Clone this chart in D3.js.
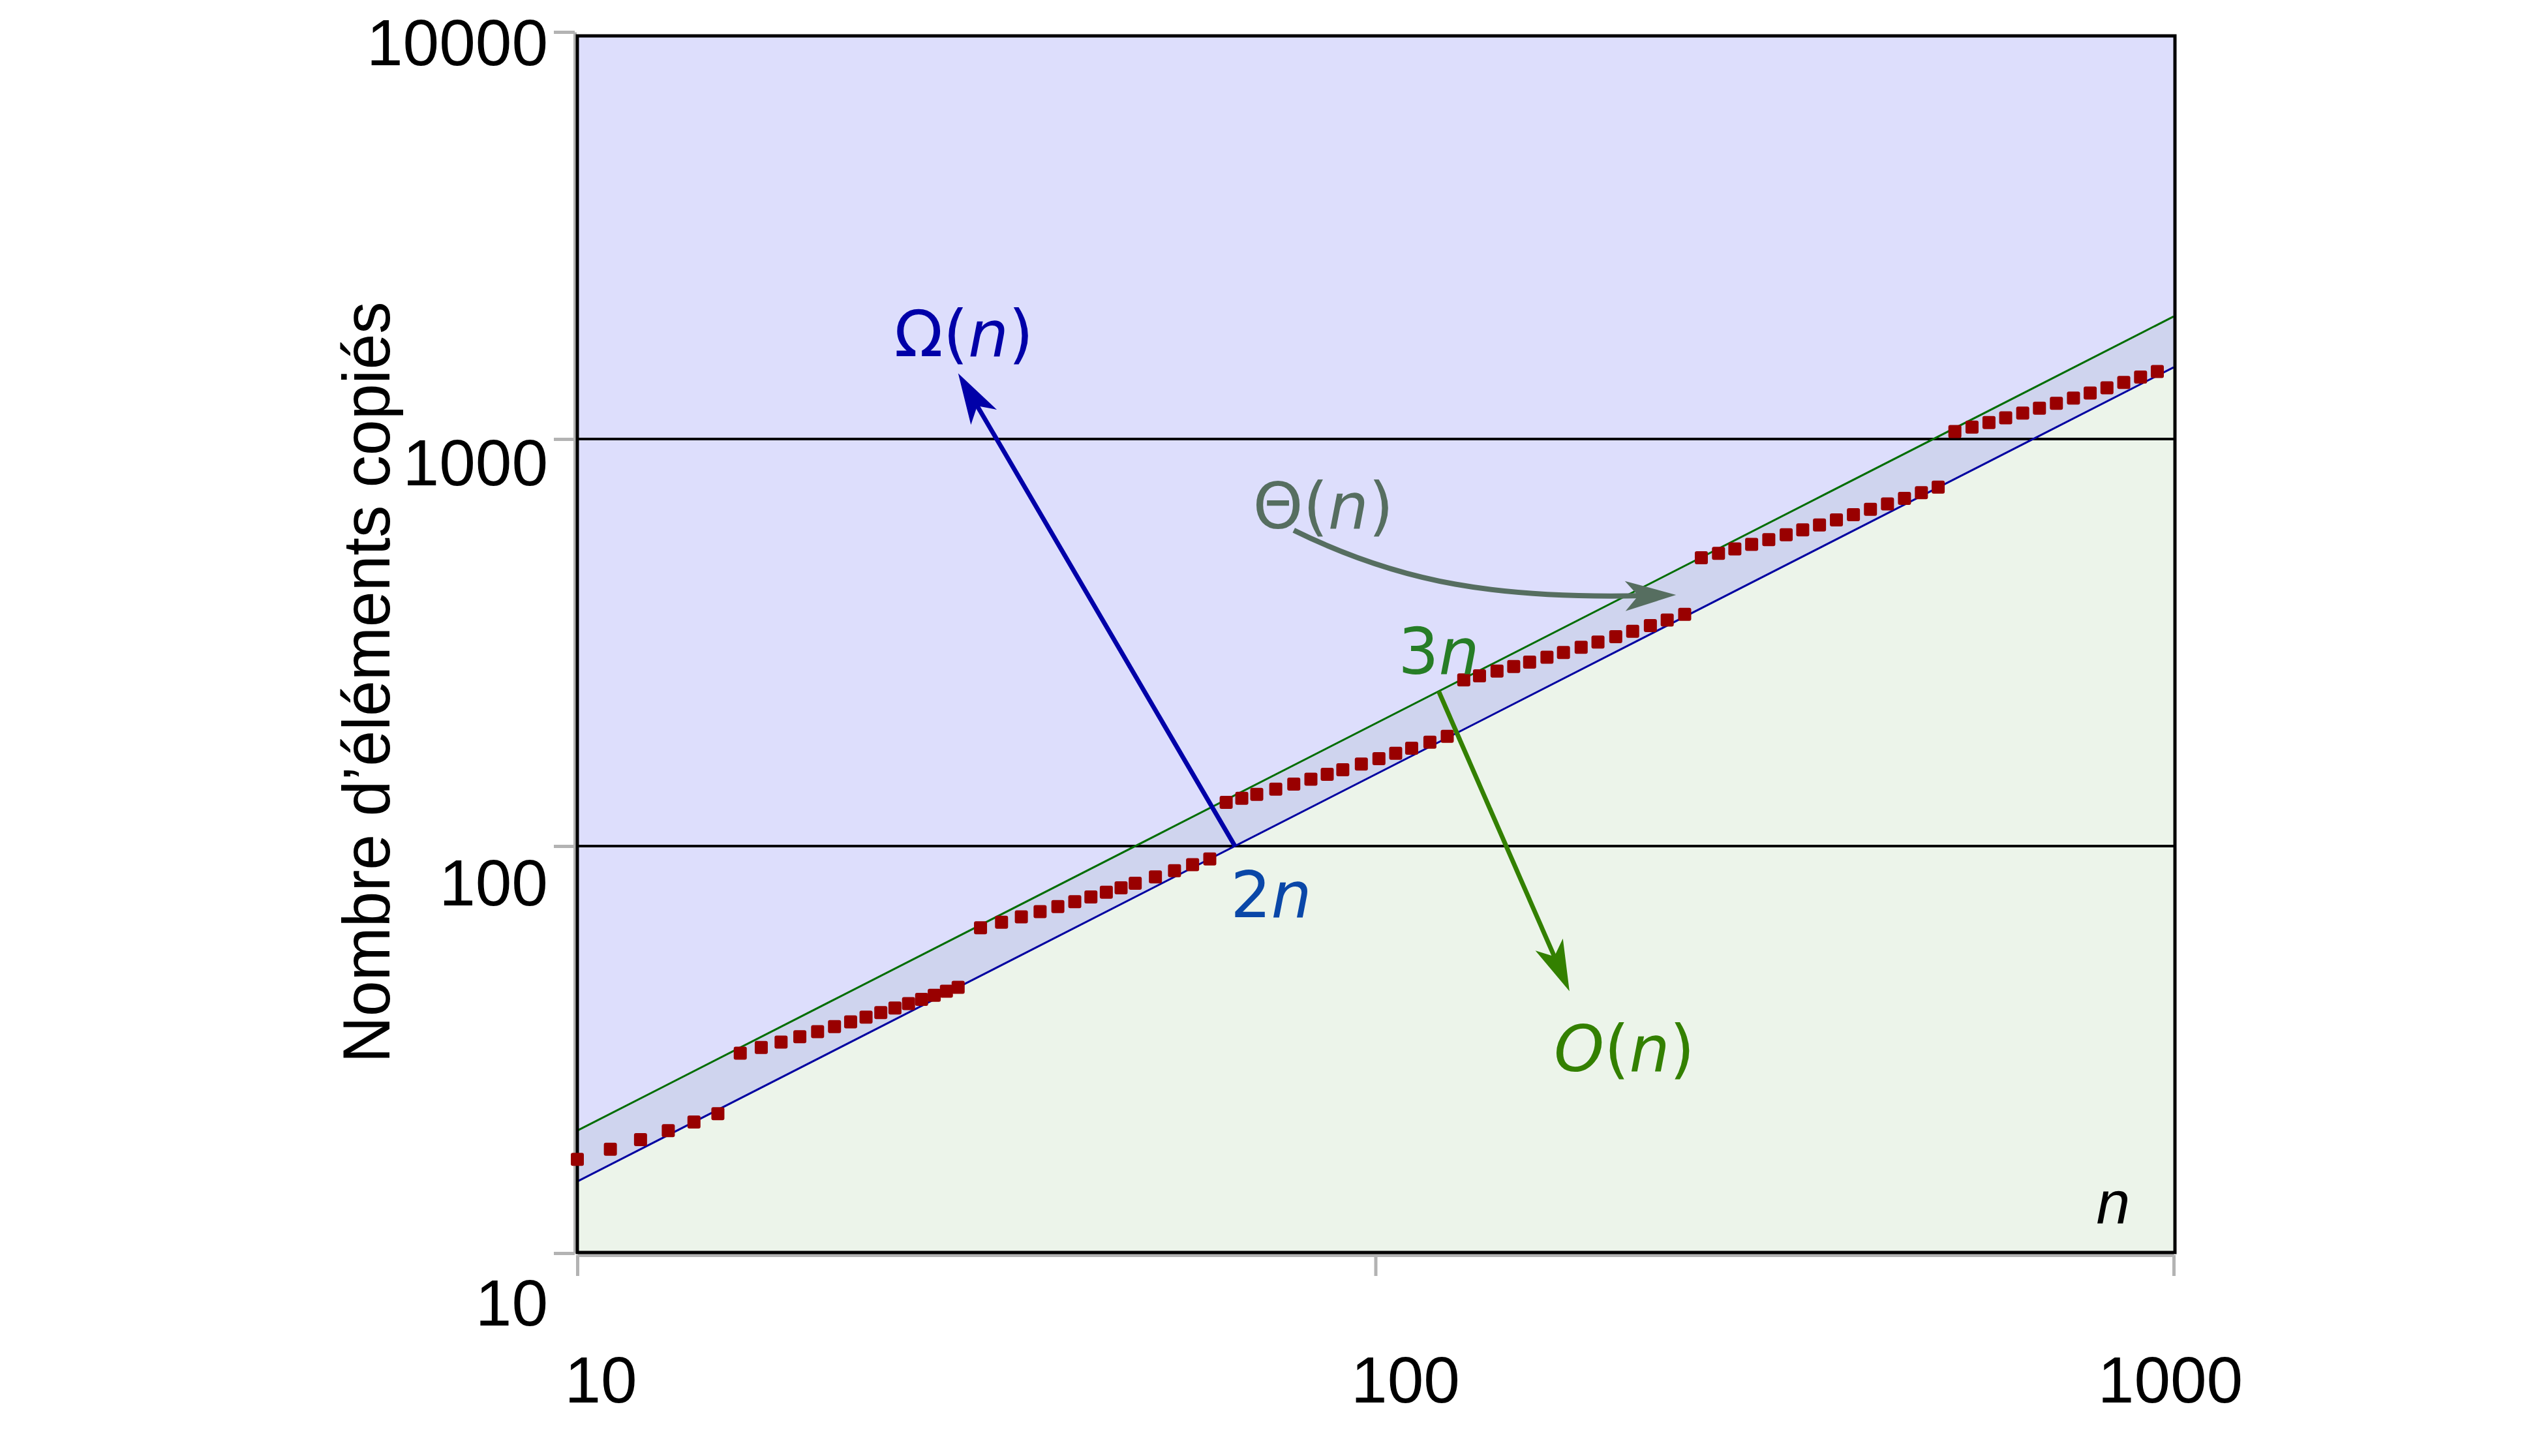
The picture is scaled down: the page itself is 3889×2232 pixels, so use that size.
<!DOCTYPE html>
<html>
<head>
<meta charset="utf-8">
<script src="https://cdn.jsdelivr.net/npm/d3@7"></script>
<style>
  html, body { margin: 0; padding: 0; background: #fff; }
  svg { display: block; }
</style>
</head>
<body>
<svg id="chart"></svg>
<script>
// sampled sizes n and number of copied elements, read off the marks
let sizes = [10, 11, 12, 13, 14, 15,
    16, 17, 18, 19, 20, 21, 22, 23, 24, 25, 26, 27, 28, 29, 30,
    32, 34, 36, 38, 40, 42, 44, 46, 48, 50, 53, 56, 59, 62,
    65, 68, 71, 75, 79, 83, 87, 91, 96, 101, 106, 111, 117, 123,
    129, 135, 142, 149, 156, 164, 172, 181, 190, 200, 210, 221, 232, 244,
    256, 269, 282, 296, 311, 327, 343, 360, 378, 397, 417, 438, 460, 483, 507,
    532, 559, 587, 616, 647, 679, 713, 749, 786, 825, 866, 909, 954];
let copies = [17, 18, 19, 20, 21, 22,
    31, 32, 33, 34, 35, 36, 37, 38, 39, 40, 41, 42, 43, 44, 45,
    63, 65, 67, 69, 71, 73, 75, 77, 79, 81, 84, 87, 90, 93,
    128, 131, 134, 138, 142, 146, 150, 154, 159, 164, 169, 174, 180, 186,
    256, 262, 269, 276, 283, 291, 299, 308, 317, 327, 337, 348, 359, 371,
    511, 524, 537, 551, 566, 582, 598, 615, 633, 652, 672, 693, 715, 738, 762,
    1043, 1070, 1098, 1127, 1158, 1190, 1224, 1260, 1297, 1336, 1377, 1420, 1465];

// bounding lines (end points)
let boundN = [10, 1000];
let lowerBound = [15, 1500];
let upperBound = [20, 2000];

let xTicks = [10, 100, 1000];
let yTicks = [10, 100, 1000, 10000];
let gridLevels = [100, 1000];

let yTitle = "Nombre d\u2019éléments copiés";

// annotation anchors, in data units
let omegaArrow = { from: [66.67, 100], to: [30, 1450] };
let bigOArrow = { from: [120, 240], to: [175, 44] };
let thetaArrow = { from: [79, 597], c1: [108, 441], c2: [143, 405], to: [238, 414] };

const W = 3889, H = 2232;
const mathFont = "'DejaVu Sans', sans-serif";
const textFont = "'Liberation Sans', Arial, Helvetica, sans-serif";

function drawChart() {
    let svg = d3.select('#chart')
        .attr('width', W)
        .attr('height', H);

    svg.append('rect').attr('width', W).attr('height', H).attr('fill', '#fff');

    let x = d3.scaleLog().domain([10, 1000]).range([885, 3332]);
    let y = d3.scaleLog().domain([10, 10000]).range([1921, 49]);

    let left = x(10), right = x(1000) + 2;
    let top = y(10000) + 6, bottom = y(10) - 1;

    // regions
    let lo = boundN.map((n, i) => [x(n), y(lowerBound[i])]);
    let up = boundN.map((n, i) => [x(n), y(upperBound[i])]);
    let poly = d3.line();

    svg.append('path')
        .attr('d', poly([[left, top], [right, top], [right, up[1][1]], up[1], up[0]]) + 'Z')
        .attr('fill', '#dddefc');
    svg.append('path')
        .attr('d', poly([up[0], up[1], [right, up[1][1]], [right, lo[1][1]], lo[1], lo[0]]) + 'Z')
        .attr('fill', '#cfd4ee');
    svg.append('path')
        .attr('d', poly([lo[0], lo[1], [right, lo[1][1]], [right, bottom], [left, bottom]]) + 'Z')
        .attr('fill', '#ecf4ea');

    // grid
    svg.selectAll('line.grid')
        .data(gridLevels)
        .enter()
        .append('line')
        .classed('grid', true)
        .attr('x1', left).attr('x2', right)
        .attr('y1', d => y(d)).attr('y2', d => y(d))
        .attr('stroke', '#000')
        .attr('stroke-width', 4);

    // bound lines
    svg.append('path')
        .attr('d', poly(up))
        .attr('stroke', '#006d00')
        .attr('stroke-width', 3)
        .attr('fill', 'none');
    svg.append('path')
        .attr('d', poly(lo))
        .attr('stroke', '#0000a0')
        .attr('stroke-width', 3)
        .attr('fill', 'none');

    // gray axes
    let gx = svg.append('g')
        .attr('transform', `translate(0,${bottom + 4})`)
        .call(d3.axisBottom(x).tickValues(xTicks).tickSize(32).tickSizeOuter(0).tickFormat(''));
    let gy = svg.append('g')
        .attr('transform', `translate(${left - 4},0)`)
        .call(d3.axisLeft(y).tickValues(yTicks).tickSize(32).tickSizeOuter(0).tickFormat(''));
    [gx, gy].forEach(g => {
        g.selectAll('path, line').attr('stroke', '#b3b3b3').attr('stroke-width', 5);
    });

    // frame
    svg.append('rect')
        .attr('x', left).attr('y', top)
        .attr('width', right - left).attr('height', bottom - top)
        .attr('fill', 'none')
        .attr('stroke', '#000')
        .attr('stroke-width', 5);

    // tick labels
    let xShift = [36, 46, -5];
    svg.selectAll('text.xtick')
        .data(xTicks)
        .enter()
        .append('text')
        .classed('xtick', true)
        .attr('x', (d, i) => x(d) + xShift[i])
        .attr('y', 2150)
        .attr('text-anchor', 'middle')
        .style('font-family', textFont)
        .style('font-size', '100px')
        .text(d => d);

    svg.selectAll('text.ytick')
        .data(yTicks)
        .enter()
        .append('text')
        .classed('ytick', true)
        .attr('x', 840)
        .attr('y', d => y(d) + 51 + (4 - Math.log10(d)) * 20)
        .attr('text-anchor', 'end')
        .style('font-family', textFont)
        .style('font-size', '100px')
        .text(d => d);

    svg.append('text')
        .attr('transform', 'translate(597,1046) rotate(-90)')
        .attr('text-anchor', 'middle')
        .attr('textLength', 1167)
        .attr('lengthAdjust', 'spacingAndGlyphs')
        .style('font-family', textFont)
        .style('font-size', '102px')
        .text(yTitle);

    svg.append('text')
        .attr('x', x(840)).attr('y', y(11.8))
        .attr('text-anchor', 'middle')
        .style('font-family', textFont)
        .style('font-style', 'italic')
        .style('font-size', '93px')
        .text('n');

    // points
    svg.selectAll('rect.pt')
        .data(sizes)
        .enter()
        .append('rect')
        .classed('pt', true)
        .attr('x', d => x(d) - 10)
        .attr('y', (d, i) => y(copies[i]) - 10)
        .attr('width', 20)
        .attr('height', 20)
        .attr('rx', 3)
        .attr('fill', '#990000');

    // arrows
    function arrowHead(tip, ang, color) {
        svg.append('path')
            .attr('d', 'M0,0 L-78,-23 L-58,0 L-78,23 Z')
            .attr('transform', `translate(${tip[0]},${tip[1]}) rotate(${ang * 180 / Math.PI})`)
            .attr('fill', color);
    }
    function straightArrow(a, color, width) {
        let p0 = [x(a.from[0]), y(a.from[1])];
        let p1 = [x(a.to[0]), y(a.to[1])];
        let ang = Math.atan2(p1[1] - p0[1], p1[0] - p0[0]);
        let end = [p1[0] - 50 * Math.cos(ang), p1[1] - 50 * Math.sin(ang)];
        svg.append('path')
            .attr('d', poly([p0, end]))
            .attr('stroke', color)
            .attr('stroke-width', width)
            .attr('fill', 'none');
        arrowHead(p1, ang, color);
    }
    straightArrow(omegaArrow, '#0000a8', 7);
    straightArrow(bigOArrow, '#338000', 7);

    let t0 = [x(thetaArrow.from[0]), y(thetaArrow.from[1])];
    let t1 = [x(thetaArrow.c1[0]), y(thetaArrow.c1[1])];
    let t2 = [x(thetaArrow.c2[0]), y(thetaArrow.c2[1])];
    let t3 = [x(thetaArrow.to[0]), y(thetaArrow.to[1])];
    let tAng = Math.atan2(t3[1] - t2[1], t3[0] - t2[0]);
    let tEnd = [t3[0] - 50 * Math.cos(tAng), t3[1] - 50 * Math.sin(tAng)];
    let curve = d3.path();
    curve.moveTo(t0[0], t0[1]);
    curve.bezierCurveTo(t1[0], t1[1], t2[0], t2[1], tEnd[0], tEnd[1]);
    svg.append('path')
        .attr('d', curve.toString())
        .attr('stroke', '#566e60')
        .attr('stroke-width', 8)
        .attr('fill', 'none');
    arrowHead(t3, tAng, '#566e60');

    // math labels
    function mathLabel(at, parts, color) {
        let t = svg.append('text')
            .attr('x', x(at[0])).attr('y', y(at[1]))
            .attr('text-anchor', 'middle')
            .style('font-family', mathFont)
            .style('font-size', '98px')
            .attr('fill', color);
        parts.forEach(p => {
            t.append('tspan')
                .style('font-style', p[1] ? 'italic' : 'normal')
                .text(p[0]);
        });
    }
    mathLabel([30.5, 1600], [['\u03A9(', false], ['n', true], [')', false]], '#0000a8');
    mathLabel([86, 603], [['\u0398(', false], ['n', true], [')', false]], '#566e60');
    mathLabel([205, 28], [['O', true], ['(', false], ['n', true], [')', false]], '#338000');
    mathLabel([120, 265], [['3', false], ['n', true]], '#267d26');
    mathLabel([74, 67], [['2', false], ['n', true]], '#0a47a8');
}

window.onload = function() {
    drawChart();
};
</script>
</body>
</html>
